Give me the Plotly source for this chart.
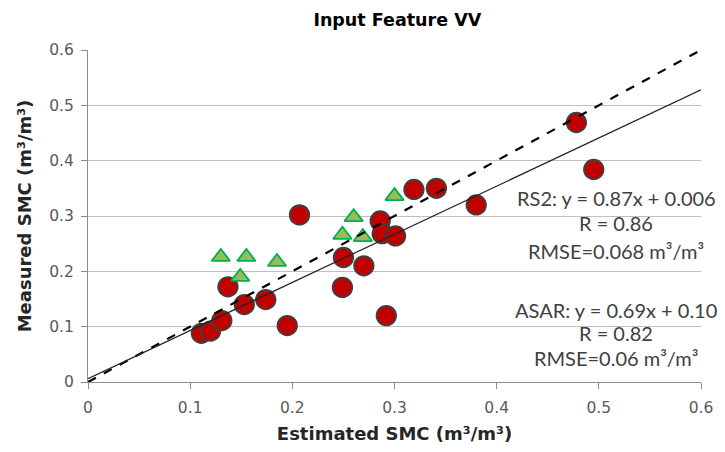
import plotly.graph_objects as go

# Red circles (estimated, measured)
red_x = [0.111, 0.120, 0.131, 0.137, 0.153, 0.174, 0.195, 0.207, 0.249, 0.250,
         0.270, 0.286, 0.288, 0.301, 0.292, 0.319, 0.341, 0.380, 0.478, 0.495]
red_y = [0.088, 0.092, 0.111, 0.172, 0.140, 0.149, 0.102, 0.302, 0.171, 0.225,
         0.210, 0.291, 0.268, 0.264, 0.120, 0.348, 0.350, 0.320, 0.469, 0.384]

# Green triangles
green_x = [0.130, 0.149, 0.155, 0.185, 0.249, 0.260, 0.269, 0.300]
green_y = [0.226, 0.190, 0.226, 0.217, 0.266, 0.298, 0.262, 0.336]

# Lines
line_x = [0.0, 0.6]
fit_slope, fit_intercept = 0.87, 0.006

x_ticks = [0, 0.1, 0.2, 0.3, 0.4, 0.5, 0.6]
y_ticks = [0, 0.1, 0.2, 0.3, 0.4, 0.5, 0.6]

stats_lines = [
    "RS2: y = 0.87x + 0.006",
    "R = 0.86",
    "RMSE=0.068 m³/m³",
    "ASAR: y = 0.69x + 0.10",
    "R = 0.82",
    "RMSE=0.06 m³/m³",
]
stats_y = [0.332, 0.287, 0.237, 0.131, 0.088, 0.043]

fig = go.Figure()
fig.add_trace(go.Scatter(
    x=red_x, y=red_y, mode="markers",
    marker=dict(symbol="circle", size=19.5, color="#C00000",
                line=dict(color="#404040", width=1.8)),
    showlegend=False))
fig.add_trace(go.Scatter(
    x=green_x, y=green_y, mode="markers",
    marker=dict(symbol="triangle-up", size=16, color="#9BBB59",
                line=dict(color="#00B050", width=1.8)),
    showlegend=False))
fig.add_trace(go.Scatter(
    x=line_x, y=line_x, mode="lines",
    line=dict(color="black", width=2.2, dash="dash"), showlegend=False))
fig.add_trace(go.Scatter(
    x=line_x, y=[fit_slope * v + fit_intercept for v in line_x], mode="lines",
    line=dict(color="#222222", width=1.2), showlegend=False))

for txt, yy in zip(stats_lines, stats_y):
    fig.add_annotation(x=0.517, y=yy, xref="x", yref="y", text=txt,
                       showarrow=False, xanchor="center", yanchor="middle",
                       font=dict(family="Lato", size=20, color="#404040"))

fig.update_layout(
    width=725, height=452,
    margin=dict(l=88, r=18, t=50, b=68),
    paper_bgcolor="white", plot_bgcolor="white",
    title=dict(text="<b>Input Feature VV</b>", x=0.548, xanchor="center",
               y=0.955, yanchor="middle",
               font=dict(family="DejaVu Sans", size=17.5, color="black")),
    font=dict(family="DejaVu Sans", color="#595959"),
)
fig.update_xaxes(
    range=[0, 0.6], tickvals=x_ticks, ticktext=[str(t) for t in x_ticks],
    showgrid=False, zeroline=False, showline=True, linecolor="#8C8C8C",
    linewidth=1, ticks="outside", ticklen=6, tickcolor="#8C8C8C",
    ticklabelstandoff=5,
    tickfont=dict(family="DejaVu Sans", size=15.5, color="#595959"),
    title=dict(text="<b>Estimated SMC (m³/m³)</b>", standoff=11,
               font=dict(family="DejaVu Sans", size=18, color="#262626")))
fig.update_yaxes(
    range=[0, 0.6], tickvals=y_ticks, ticktext=[str(t) for t in y_ticks],
    showgrid=True, gridcolor="#BFBFBF", gridwidth=1,
    zeroline=False, showline=True, linecolor="#8C8C8C",
    linewidth=1, ticks="outside", ticklen=6, tickcolor="#8C8C8C",
    ticklabelstandoff=4,
    tickfont=dict(family="DejaVu Sans", size=15.5, color="#595959"),
    title=dict(text="<b>Measured SMC (m³/m³)</b>", standoff=12,
               font=dict(family="DejaVu Sans", size=18, color="#262626")))

fig.write_html("out.html")
